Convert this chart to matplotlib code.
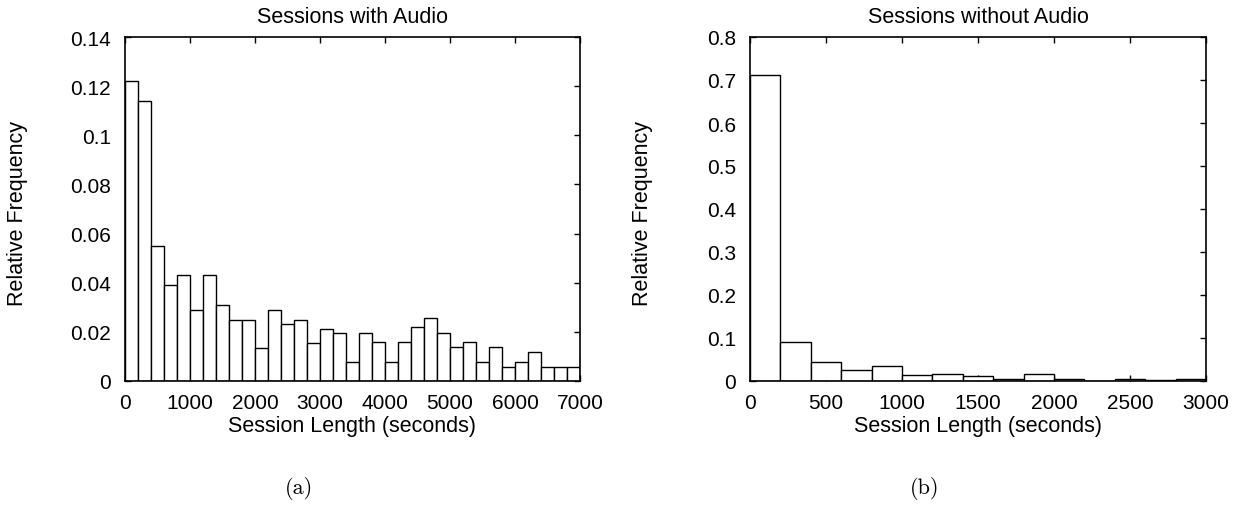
import matplotlib
matplotlib.use("Agg")
import matplotlib.pyplot as plt
import numpy as np

# ---- data ----
bin_width = 200
audio_freq = [0.122, 0.114, 0.055, 0.039, 0.043, 0.029, 0.043, 0.031, 0.025, 0.025,
              0.0135, 0.029, 0.0232, 0.025, 0.0153, 0.0212, 0.0195, 0.0076, 0.0197, 0.0158,
              0.0078, 0.0158, 0.0218, 0.0257, 0.0197, 0.0138, 0.0158, 0.0078, 0.0138, 0.0058,
              0.0078, 0.0118, 0.0058, 0.0058, 0.0058, 0.0096]
noaudio_freq = [0.711, 0.091, 0.045, 0.026, 0.034, 0.0134, 0.0157, 0.011, 0.005, 0.0157,
                0.004, 0.001, 0.004, 0.002, 0.005]
audio_yticks = [0, 0.02, 0.04, 0.06, 0.08, 0.1, 0.12, 0.14]
audio_ylabels = ["0", "0.02", "0.04", "0.06", "0.08", "0.1", "0.12", "0.14"]
audio_xticks = [0, 1000, 2000, 3000, 4000, 5000, 6000, 7000]
noaudio_yticks = [0, 0.1, 0.2, 0.3, 0.4, 0.5, 0.6, 0.7, 0.8]
noaudio_ylabels = ["0", "0.1", "0.2", "0.3", "0.4", "0.5", "0.6", "0.7", "0.8"]
noaudio_xticks = [0, 500, 1000, 1500, 2000, 2500, 3000]

plt.rcParams['font.family'] = ['Liberation Sans', 'DejaVu Sans']
TFS = 15
LFS = 15.5

W, H = 1236, 510
fig = plt.figure(figsize=(W / 100, H / 100), dpi=100)

def px_axes(x0, x1, ytop, ybot):
    return fig.add_axes([x0 / W, 1 - ybot / H, (x1 - x0) / W, (ybot - ytop) / H])

def style(ax, xlim, ylim, xticks, yticks, ylabels, title, width_px):
    ax.set_xlim(*xlim)
    ax.set_ylim(*ylim)
    ax.set_xticks(xticks)
    ax.set_xticklabels([str(t) for t in xticks])
    ax.set_yticks(yticks)
    ax.set_yticklabels(ylabels)
    ax.tick_params(direction='in', top=True, right=True, length=4, width=1.0,
                   labelsize=TFS)
    ax.tick_params(axis='x', pad=9)
    ax.tick_params(axis='y', pad=10)
    for s in ax.spines.values():
        s.set_linewidth(1.2)
    ax.set_xlabel("Session Length (seconds)", fontsize=LFS, labelpad=2)
    ax.set_ylabel("Relative Frequency", fontsize=LFS, va='center')
    ax.yaxis.set_label_coords(-107.5 / width_px, 0.49)
    ax.set_title(title, fontsize=LFS, pad=11)

# Left panel
ax1 = px_axes(125, 580, 38, 382)
edges1 = np.arange(len(audio_freq)) * bin_width
ax1.bar(edges1, audio_freq, width=bin_width, align='edge', facecolor='white',
        edgecolor='black', linewidth=1.0, zorder=2)
style(ax1, (0, 7000), (0, 0.14), audio_xticks, audio_yticks, audio_ylabels,
      "Sessions with Audio", 455)

# Right panel
ax2 = px_axes(750, 1206, 38, 382)
edges2 = np.arange(len(noaudio_freq)) * bin_width
ax2.bar(edges2, noaudio_freq, width=bin_width, align='edge', facecolor='white',
        edgecolor='black', linewidth=1.0, zorder=2)
style(ax2, (0, 3000), (0, 0.8), noaudio_xticks, noaudio_yticks, noaudio_ylabels,
      "Sessions without Audio", 456)

fig.text(299 / W, 1 - 489 / H, "(a)", ha='center', va='center', fontsize=16, family='cmr10')
fig.text(925 / W, 1 - 489 / H, "(b)", ha='center', va='center', fontsize=16, family='cmr10')

fig.savefig("out.png", dpi=100, facecolor='white')
